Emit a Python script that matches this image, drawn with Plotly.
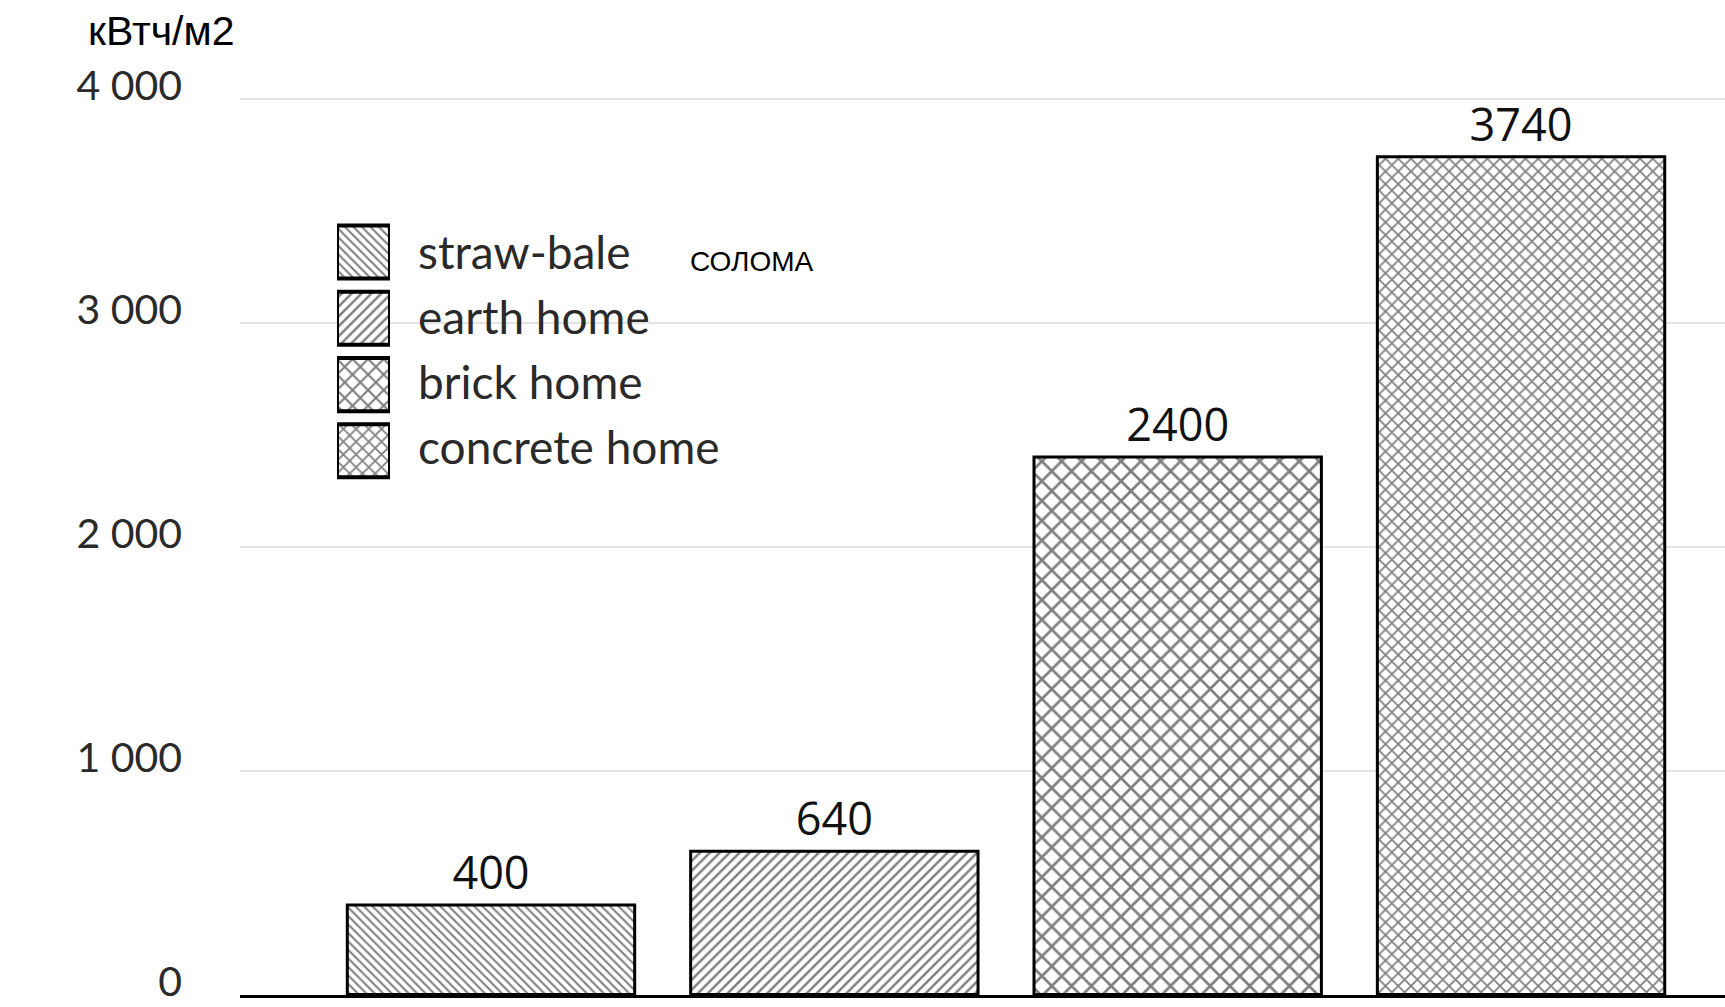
import plotly.graph_objects as go

# Energy intensity by construction type
categories = ["straw-bale", "earth home", "brick home", "concrete home"]
values = [400, 640, 2400, 3740]
patterns = ["\\", "/", "x", "x"]
pattern_sizes = [6, 7, 14, 9]
tick_vals = [0, 1000, 2000, 3000, 4000]
tick_text = ["0", "1 000", "2 000", "3 000", "4 000"]
y_unit = "кВтч/м2"
straw_note = "СОЛОМА"

W, H = 1725, 1007
M_L, M_R, M_T, M_B = 240, 0, 95, 12
PW, PH = W - M_L - M_R, H - M_T - M_B


def px_x(x):
    return (x - M_L) / PW


def px_y(y):
    return (H - M_B - y) / PH


fig = go.Figure()

fig.add_trace(go.Bar(
    x=categories,
    y=values,
    width=0.837,
    text=[str(v) for v in values],
    textposition="outside",
    textfont=dict(family="Open Sans", size=45, color="#111111"),
    cliponaxis=False,
    marker=dict(
        color="white",
        line=dict(color="black", width=3),
        pattern=dict(shape=patterns, size=pattern_sizes, solidity=0.35,
                     fgcolor="black", bgcolor="white", fillmode="overlay"),
    ),
    showlegend=False,
    hoverinfo="skip",
))

# Legend swatches drawn as a small horizontal bar panel
fig.add_trace(go.Bar(
    y=categories,
    x=[1] * len(categories),
    base=0,
    orientation="h",
    width=0.8,
    xaxis="x2",
    yaxis="y2",
    cliponaxis=False,
    marker=dict(
        color="white",
        line=dict(color="black", width=4),
        pattern=dict(shape=patterns, size=[6, 7, 11, 9], solidity=0.35,
                     fgcolor="black", bgcolor="white", fillmode="overlay"),
    ),
    showlegend=False,
    hoverinfo="skip",
))

legend_font = dict(family="Lato", size=46, color="#2a2a2a")
legend_rows = [251, 316, 381, 447]
annotations = []
for name, yy in zip(categories, legend_rows):
    annotations.append(dict(
        x=px_x(416), y=px_y(yy), xref="paper", yref="paper",
        text=name, showarrow=False, xanchor="left", yanchor="middle",
        font=legend_font,
    ))
annotations.append(dict(
    x=px_x(688), y=px_y(261), xref="paper", yref="paper",
    text=straw_note, showarrow=False, xanchor="left", yanchor="middle",
    font=dict(family="Liberation Sans", size=28, color="black"),
))
annotations.append(dict(
    x=px_x(86), y=px_y(31), xref="paper", yref="paper",
    text=y_unit, showarrow=False, xanchor="left", yanchor="middle",
    font=dict(family="Liberation Sans", size=41, color="black"),
))

fig.update_layout(
    width=W, height=H,
    margin=dict(l=M_L, r=M_R, t=M_T, b=M_B, pad=0, autoexpand=False),
    paper_bgcolor="white",
    plot_bgcolor="white",
    bargap=0.163,
    xaxis=dict(
        type="category",
        range=[-0.731, 3.594],
        showticklabels=False,
        showgrid=False,
        showline=True,
        linecolor="black",
        linewidth=3,
        ticks="",
        automargin=False,
    ),
    yaxis=dict(
        range=[-2, 4016],
        tickvals=tick_vals,
        ticktext=tick_text,
        tickfont=dict(family="Lato", size=41, color="#2a2a2a"),
        showgrid=True,
        gridcolor="#e3e3e3",
        gridwidth=2,
        zeroline=False,
        showline=False,
        ticks="",
        ticklabelstandoff=57,
        ticklabelshift=-13,
        ticklabeloverflow="allow",
        automargin=False,
    ),
    xaxis2=dict(
        domain=[px_x(337), px_x(390)],
        anchor="y2",
        range=[0, 1],
        visible=False,
        fixedrange=True,
    ),
    yaxis2=dict(
        domain=[px_y(484), px_y(219)],
        anchor="x2",
        type="category",
        autorange="reversed",
        visible=False,
        fixedrange=True,
    ),
    annotations=annotations,
)

fig.write_html("out.html")
